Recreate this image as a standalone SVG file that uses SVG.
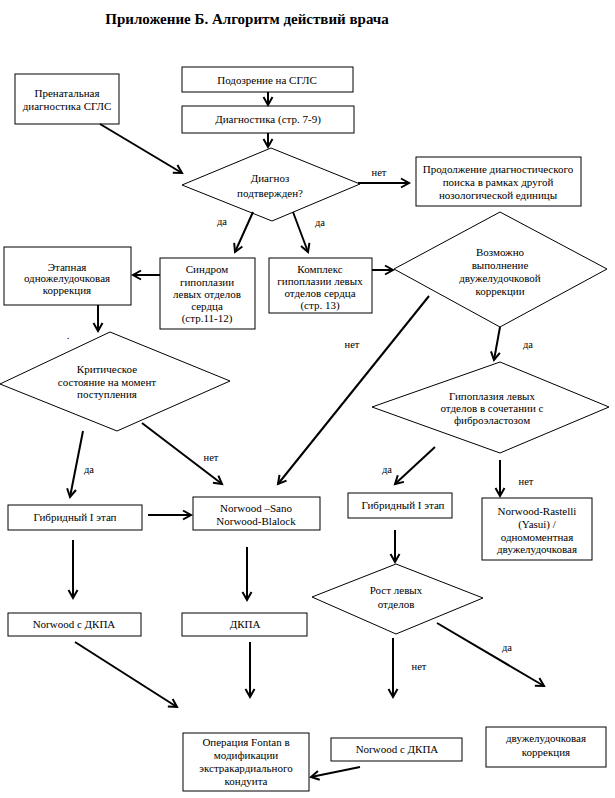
<svg xmlns="http://www.w3.org/2000/svg" width="615" height="798" viewBox="0 0 615 798">
<style>
  .bg { fill: #ffffff; }
  .box { fill: #ffffff; stroke: #000000; stroke-width: 1; }
  .t { font-family: "Liberation Serif", "Times New Roman", serif; font-size: 11px; fill: #000000; text-anchor: middle; }
  .lbl { font-family: "Liberation Serif", "Times New Roman", serif; font-size: 10.5px; fill: #000000; text-anchor: middle; }
  .title { font-family: "Liberation Serif", "Times New Roman", serif; font-size: 15px; font-weight: bold; fill: #000000; text-anchor: middle; }
  .c { stroke: #000000; stroke-width: 2; fill: none; marker-end: url(#arr); }
</style>
<defs>
  <marker id="arr" markerUnits="userSpaceOnUse" markerWidth="12" markerHeight="12" refX="9" refY="5" orient="auto" overflow="visible">
    <path d="M1,0.5 L9,5 L1,9.5" fill="none" stroke="#000000" stroke-width="2"/>
  </marker>
</defs>
<rect class="bg" x="0" y="0" width="615" height="798"/>
<text class="title" x="247" y="24">Приложение Б. Алгоритм действий врача</text>

<g id="n-prenatal"><rect class="box" x="15" y="74" width="104" height="50"/>
  <text class="t" x="67" y="97">Пренатальная</text><text class="t" x="67" y="110">диагностика СГЛС</text></g>
<g id="n-podozrenie"><rect class="box" x="182" y="67" width="171" height="25"/>
  <text class="t" x="267" y="84">Подозрение на СГЛС</text></g>
<g id="n-diagnostika"><rect class="box" x="182" y="106" width="172" height="27"/>
  <text class="t" x="268" y="123">Диагностика (стр. 7-9)</text></g>
<g id="n-diagnoz"><polygon class="box" points="271,148 360,184 272,221 182,185"/>
  <text class="t" x="270" y="182">Диагноз</text><text class="t" x="270" y="197">подтвержден?</text></g>
<g id="n-prodolzhenie"><rect class="box" x="416" y="157" width="165" height="49"/>
  <text class="t" x="498" y="173">Продолжение диагностического</text><text class="t" x="498" y="186">поиска в рамках другой</text><text class="t" x="498" y="199">нозологической единицы</text></g>
<g id="n-etapnaya"><rect class="box" x="4" y="247" width="127" height="58"/>
  <text class="t" x="67" y="271">Этапная</text><text class="t" x="67" y="282">одножелудочковая</text><text class="t" x="67" y="294">коррекция</text></g>
<g id="n-sindrom"><rect class="box" x="160" y="258" width="95" height="71"/>
  <text class="t" x="207" y="273">Синдром</text><text class="t" x="207" y="286">гипоплазии</text><text class="t" x="207" y="298">левых отделов</text><text class="t" x="207" y="310">сердца</text><text class="t" x="207" y="322">(стр.11-12)</text></g>
<g id="n-kompleks"><rect class="box" x="269" y="258" width="103" height="55"/>
  <text class="t" x="320" y="273">Комплекс</text><text class="t" x="320" y="285">гипоплазии левых</text><text class="t" x="320" y="297">отделов сердца</text><text class="t" x="320" y="309">(стр. 13)</text></g>
<g id="n-vozmozhno"><polygon class="box" points="500,212 607,269 500,327 394,269"/>
  <text class="t" x="500" y="256">Возможно</text><text class="t" x="500" y="269">выполнение</text><text class="t" x="500" y="282">двужелудочковой</text><text class="t" x="500" y="295">коррекции</text></g>
<g id="n-dot"><text class="t" x="68" y="339">.</text></g>
<g id="n-kritich"><polygon class="box" points="110,332 230,381 117,431 0,384"/>
  <text class="t" x="107" y="373">Критическое</text><text class="t" x="107" y="386">состояние на момент</text><text class="t" x="107" y="398">поступления</text></g>
<g id="n-gipoplaziya"><polygon class="box" points="500,362 609,407 500,453 372,407"/>
  <text class="t" x="492" y="400">Гипоплазия левых</text><text class="t" x="492" y="412">отделов в сочетании с</text><text class="t" x="492" y="424">фиброэластозом</text></g>
<g id="n-gibrid1"><rect class="box" x="8" y="505" width="134" height="25"/>
  <text class="t" x="75" y="521">Гибридный I этап</text></g>
<g id="n-norwood-sano"><rect class="box" x="193" y="497" width="127" height="33"/>
  <text class="t" x="256" y="512">Norwood –Sano</text><text class="t" x="256" y="525">Norwood-Blalock</text></g>
<g id="n-gibrid2"><rect class="box" x="348" y="493" width="104" height="25"/>
  <text class="t" x="403" y="509">Гибридный I этап</text></g>
<g id="n-rastelli"><rect class="box" x="482" y="498" width="110" height="62"/>
  <text class="t" x="537" y="515">Norwood-Rastelli</text><text class="t" x="537" y="528">(Yasui) /</text><text class="t" x="537" y="541">одномоментная</text><text class="t" x="537" y="553">двужелудочковая</text></g>
<g id="n-rost"><polygon class="box" points="396,564 483,598 396,634 312,597"/>
  <text class="t" x="396" y="594">Рост левых</text><text class="t" x="396" y="608">отделов</text></g>
<g id="n-norwood-dkpa1"><rect class="box" x="8" y="613" width="133" height="23"/>
  <text class="t" x="74" y="628">Norwood с ДКПА</text></g>
<g id="n-dkpa"><rect class="box" x="182" y="613" width="125" height="23"/>
  <text class="t" x="245" y="628">ДКПА</text></g>
<g id="n-fontan"><rect class="box" x="183" y="733" width="126" height="58"/>
  <text class="t" x="246" y="746">Операция Fontan в</text><text class="t" x="246" y="759">модификации</text><text class="t" x="246" y="772">экстракардиального</text><text class="t" x="246" y="785">кондуита</text></g>
<g id="n-norwood-dkpa2"><rect class="box" x="331" y="738" width="131" height="23"/>
  <text class="t" x="397" y="753">Norwood с ДКПА</text></g>
<g id="n-dvuzh"><rect class="box" x="486" y="727" width="120" height="40"/>
  <text class="t" x="546" y="742">двужелудочковая</text><text class="t" x="546" y="756">коррекция</text></g>

<g id="connectors">
  <line class="c" x1="268" y1="92" x2="268" y2="105"/>
  <line class="c" x1="268" y1="133" x2="268" y2="147"/>
  <line class="c" x1="100" y1="124" x2="182" y2="173"/>
  <line class="c" x1="358" y1="183" x2="409" y2="183"/>
  <line class="c" x1="253" y1="212" x2="235" y2="252"/>
  <line class="c" x1="293" y1="212" x2="308" y2="252"/>
  <line class="c" x1="160" y1="275" x2="133" y2="275"/>
  <line class="c" x1="372" y1="270" x2="393" y2="270"/>
  <line class="c" x1="98" y1="305" x2="98" y2="331"/>
  <line class="c" x1="500" y1="327" x2="494" y2="360"/>
  <line class="c" x1="429" y1="296" x2="278" y2="484"/>
  <line class="c" x1="83" y1="431" x2="70" y2="497"/>
  <line class="c" x1="142" y1="423" x2="222" y2="484"/>
  <line class="c" x1="435" y1="447" x2="395" y2="484"/>
  <line class="c" x1="500" y1="460" x2="500" y2="496"/>
  <line class="c" x1="148" y1="515" x2="191" y2="515"/>
  <line class="c" x1="395" y1="530" x2="395" y2="562"/>
  <line class="c" x1="73" y1="540" x2="73" y2="598"/>
  <line class="c" x1="247" y1="547" x2="247" y2="600"/>
  <line class="c" x1="75" y1="642" x2="177" y2="707"/>
  <line class="c" x1="250" y1="642" x2="250" y2="697"/>
  <line class="c" x1="393" y1="638" x2="393" y2="697"/>
  <line class="c" x1="437" y1="623" x2="544" y2="686"/>
  <line class="c" x1="360" y1="767" x2="311" y2="777"/>
  <text class="lbl" x="379" y="176">нет</text>
  <text class="lbl" x="222" y="225">да</text>
  <text class="lbl" x="320" y="226">да</text>
  <text class="lbl" x="352" y="348">нет</text>
  <text class="lbl" x="528" y="348">да</text>
  <text class="lbl" x="89" y="473">да</text>
  <text class="lbl" x="211" y="461">нет</text>
  <text class="lbl" x="387" y="473">да</text>
  <text class="lbl" x="526" y="485">нет</text>
  <text class="lbl" x="419" y="670">нет</text>
  <text class="lbl" x="507" y="651">да</text>
</g>
</svg>
